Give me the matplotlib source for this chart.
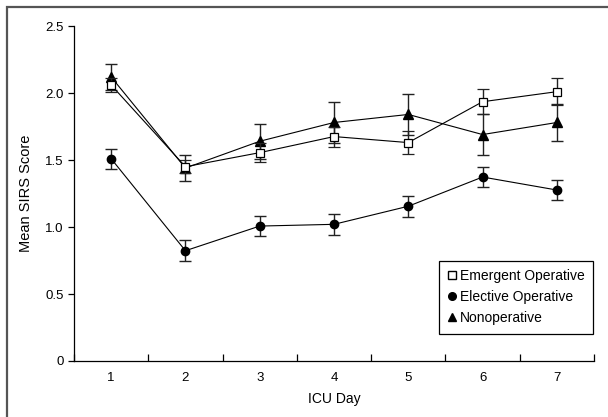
import matplotlib
matplotlib.use("Agg")
import matplotlib.pyplot as plt
from matplotlib.lines import Line2D
from matplotlib.patches import Rectangle

plt.rcParams['font.family'] = ['Liberation Sans', 'DejaVu Sans']

# ICU day and mean SIRS score per group, with error bar half-widths
days = [1, 2, 3, 4, 5, 6, 7]
emergent = [2.06, 1.45, 1.555, 1.675, 1.63, 1.935, 2.01]
emergent_err = [0.05, 0.05, 0.07, 0.075, 0.085, 0.095, 0.10]
elective = [1.51, 0.823, 1.007, 1.02, 1.155, 1.373, 1.276]
elective_err = [0.075, 0.08, 0.075, 0.08, 0.077, 0.078, 0.075]
nonop = [2.12, 1.44, 1.64, 1.78, 1.84, 1.69, 1.78]
nonop_err = [0.10, 0.10, 0.13, 0.15, 0.15, 0.15, 0.14]

labels = ['Emergent Operative', 'Elective Operative', 'Nonoperative']
yticks = [0, 0.5, 1.0, 1.5, 2.0, 2.5]
yticklabels = ['0', '0.5', '1.0', '1.5', '2.0', '2.5']

fs = 9.5

fig = plt.figure(figsize=(6.08, 4.17), dpi=100)
ax = fig.add_axes([0.1217, 0.1343, 0.8553, 0.8033])

# gray frame round the whole figure
fig.patches.append(Rectangle((7 / 608, -0.1), 1.2, 1 - 7 / 417 + 0.1,
                             transform=fig.transFigure, fill=False,
                             edgecolor='#555555', linewidth=1.6))

eb = dict(color='black', ecolor='#222222', elinewidth=1.0, capsize=4.5,
          capthick=1.0, linewidth=0.8)
ax.errorbar(days, nonop, yerr=nonop_err, marker='^', markersize=6.5,
            markerfacecolor='black', markeredgecolor='black', zorder=3, **eb)
ax.errorbar(days, emergent, yerr=emergent_err, marker='s', markersize=5.5,
            markerfacecolor='white', markeredgecolor='black',
            markeredgewidth=0.9, zorder=4, **eb)
ax.errorbar(days, elective, yerr=elective_err, marker='o', markersize=6,
            markerfacecolor='black', markeredgecolor='black', zorder=3, **eb)

ax.set_xlim(0.5, 7.5)
ax.set_ylim(0, 2.5)
ax.set_xticks(days)
ax.set_xticks([d - 0.5 for d in days] + [7.5], minor=True)
ax.tick_params(axis='x', which='major', length=0, pad=8, labelsize=fs)
ax.tick_params(axis='x', which='minor', direction='in', length=5, width=0.9)
ax.set_yticks(yticks)
ax.set_yticklabels(yticklabels)
ax.tick_params(axis='y', direction='out', length=4, width=0.9, labelsize=fs)

ax.spines['top'].set_visible(False)
ax.spines['right'].set_visible(False)
for s in ('left', 'bottom'):
    ax.spines[s].set_linewidth(0.9)

ax.set_xlabel('ICU Day', fontsize=10, labelpad=6)
ax.set_ylabel('Mean SIRS Score', fontsize=10.5, labelpad=9)

handles = [
    Line2D([], [], linestyle='none', marker='s', markersize=5.5,
           markerfacecolor='white', markeredgecolor='black'),
    Line2D([], [], linestyle='none', marker='o', markersize=5.5,
           markerfacecolor='black', markeredgecolor='black'),
    Line2D([], [], linestyle='none', marker='^', markersize=6,
           markerfacecolor='black', markeredgecolor='black'),
]
leg = ax.legend(handles, labels, loc='upper left',
                bbox_to_anchor=(0.702, 0.2985), borderaxespad=0,
                fontsize=10, handlelength=0.7, handletextpad=0.2,
                labelspacing=0.5, borderpad=0.6, fancybox=False,
                edgecolor='black', framealpha=1)
leg.get_frame().set_linewidth(0.9)

fig.savefig('out.png', dpi=100)
